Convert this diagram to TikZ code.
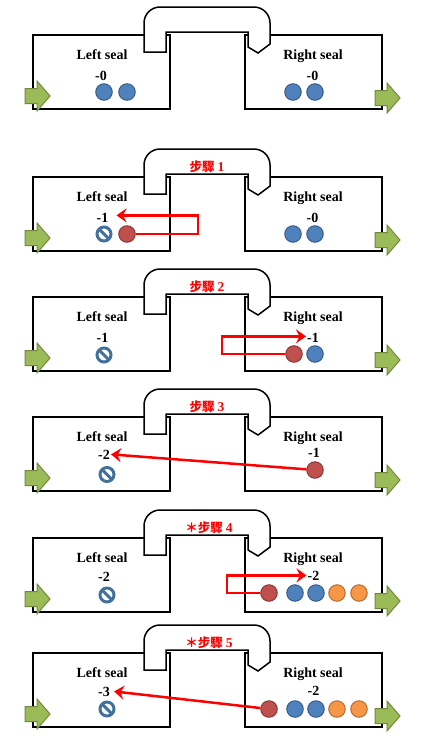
\documentclass[tikz,border=0pt]{standalone}
\usepackage{fontspec}
\setmainfont{Liberation Serif}
\newfontfamily\cjkfont{Noto Sans CJK TC}
\usetikzlibrary{arrows.meta}

\definecolor{bluefill}{HTML}{4F81BD}
\definecolor{blueline}{HTML}{385D8A}
\definecolor{redfill}{HTML}{C0504D}
\definecolor{redline}{HTML}{8C3836}
\definecolor{orangefill}{HTML}{F79646}
\definecolor{orangeline}{HTML}{B66D31}
\definecolor{greenfill}{HTML}{9BBB59}
\definecolor{greenline}{HTML}{71893F}
\definecolor{prohibcol}{HTML}{41719C}

\tikzset{
 boxline/.style={line width=2pt, draw=black},
 connline/.style={line width=1.5pt, draw=black, fill=white},
 seal/.style={font=\fontsize{14}{14}\selectfont\bfseries, anchor=base, inner sep=0pt},
 count/.style={font=\fontsize{14}{14}\selectfont\bfseries, anchor=base, inner sep=1pt},
 steplabel/.style={font=\fontsize{12.5}{13}\selectfont\bfseries, text=red, anchor=base, inner sep=0pt},
 ball/.style={circle, minimum size=16.5pt, inner sep=0pt, line width=1pt},
 blueball/.style={ball, fill=bluefill, draw=blueline},
 redball/.style={ball, fill=redfill, draw=redline},
 orangeball/.style={ball, fill=orangefill, draw=orangeline},
 prohib/.style={circle, minimum size=14pt, inner sep=0pt, outer sep=0pt, line width=3pt, draw=prohibcol},
 prohibbar/.style={line width=3pt, draw=prohibcol},
 move/.style={draw=red, line width=2.5pt, -{Stealth[length=10pt,width=14pt,inset=3.5pt]}},
 greenarrow/.style={fill=greenfill, draw=greenline, line width=1pt},
}

\newcommand\stepname[1]{{\cjkfont 步驟}\hspace{3pt}{\fontsize{13.5}{13.5}\selectfont\bfseries #1}}
\newcommand\starstep[1]{{\cjkfont ＊步驟}\hspace{3pt}{\fontsize{13.5}{13.5}\selectfont\bfseries #1}}

% #1 = top of boxes (px), #2 = name suffix
\newcommand\sealframe[2]{%
 \begin{scope}[yshift=-#1pt]
  \draw[boxline] (33,0) rectangle (170,74);
  \draw[boxline] (245,0) rectangle (382,74);
  \draw[connline] (144,17) -- (144,-12)
     .. controls (144,-20.8) and (151.2,-28) .. (160,-28) -- (254,-28)
     .. controls (262.8,-28) and (270,-20.8) .. (270,-12)
     -- (270,9) -- (258,18) -- (248,12) -- (248,-3) -- (166,-3) -- (166,17) -- cycle;
  \filldraw[greenarrow] (25,53.5) -- (37,53.5) -- (37,46) -- (50,61) -- (37,76) -- (37,68.5) -- (25,68.5) -- cycle;
  \filldraw[greenarrow] (375,55.5) -- (387,55.5) -- (387,48) -- (400,63) -- (387,78) -- (387,70.5) -- (375,70.5) -- cycle;
  \node[seal] (ls#2) at (102,24) {Left seal};
  \node[seal] (rs#2) at (313,24) {Right seal};
 \end{scope}}

\newcommand\prohibat[2]{%
 \node[prohib] (#1) at #2 {};
 \draw[prohibbar] (#1.north west) -- (#1.south east);}

\begin{document}
\begin{tikzpicture}[x=1pt,y=-1pt]
\useasboundingbox (0,0) rectangle (427,748);

% ---------- panel 1 ----------
\sealframe{35}{a}
\begin{scope}[yshift=-35pt]
 \node[count] (lca) at (101,45) {-0};
 \node[count] (rca) at (312.5,45) {-0};
 \node[blueball] (a1) at (104,57) {};
 \node[blueball] (a2) at (127,57) {};
 \node[blueball] (a3) at (293,57) {};
 \node[blueball] (a4) at (315,57) {};
\end{scope}

% ---------- panel 2 ----------
\sealframe{177}{b}
\begin{scope}[yshift=-177pt]
 \node[steplabel] (stb) at (207,-5.5) {\stepname{1}};
 \node[count] (lcb) at (102.5,45) {-1};
 \node[count] (rcb) at (312.5,45) {-0};
 \prohibat{pb}{(104,57)}
 \node[redball] (b2) at (127,57) {};
 \node[blueball] (b3) at (293,57) {};
 \node[blueball] (b4) at (315,57) {};
 \draw[move] (b2.east) -- (198,57) |- ([xshift=7pt,yshift=2pt]lcb.east);
\end{scope}

% ---------- panel 3 ----------
\sealframe{297}{c}
\begin{scope}[yshift=-297pt]
 \node[steplabel] (stc) at (207,-5.5) {\stepname{2}};
 \node[count] (lcc) at (102.5,45) {-1};
 \node[count] (rcc) at (313,45) {-1};
 \prohibat{pc}{(104,58)}
 \node[redball] (c2) at (294,57) {};
 \node[blueball] (c3) at (315,57) {};
 \draw[move] (c2.west) -- (222,57) |- ([yshift=1pt]rcc.west);
\end{scope}

% ---------- panel 4 ----------
\sealframe{417}{d}
\begin{scope}[yshift=-417pt]
 \node[steplabel] (std) at (207,-5.5) {\stepname{3}};
 \node[count] (lcd) at (104,42) {-2};
 \node[count] (rcd) at (314,40) {-1};
 \prohibat{pd}{(107,57.5)}
 \node[redball] (d2) at (315,53) {};
 \draw[move] (d2) -- (lcd.east);
\end{scope}

% ---------- panel 5 ----------
\sealframe{538}{e}
\begin{scope}[yshift=-538pt]
 \node[steplabel] (ste) at (209,-5.5) {\starstep{4}};
 \node[count] (lce) at (104,43) {-2};
 \node[count] (rce) at (313.5,42) {-2};
 \prohibat{pe}{(107,57)}
 \node[redball] (e1) at (269,55) {};
 \node[blueball] (e2) at (295,55) {};
 \node[blueball] (e3) at (316,55) {};
 \node[orangeball] (e4) at (337,55) {};
 \node[orangeball] (e5) at (359,55) {};
 \draw[move] (e1.west) -- (227,55) |- (rce.west);
\end{scope}

% ---------- panel 6 ----------
\sealframe{653}{f}
\begin{scope}[yshift=-653pt]
 \node[steplabel] (stf) at (209,-6) {\starstep{5}};
 \node[count] (lcf) at (104,43) {-3};
 \node[count] (rcf) at (313.5,42) {-2};
 \prohibat{pf}{(107,56)}
 \node[redball] (f1) at (269,56) {};
 \node[blueball] (f2) at (295,56) {};
 \node[blueball] (f3) at (316,56) {};
 \node[orangeball] (f4) at (337,56) {};
 \node[orangeball] (f5) at (359,56) {};
 \draw[move] (f1) -- ([xshift=3pt]lcf.east);
\end{scope}
\end{tikzpicture}
\end{document}
